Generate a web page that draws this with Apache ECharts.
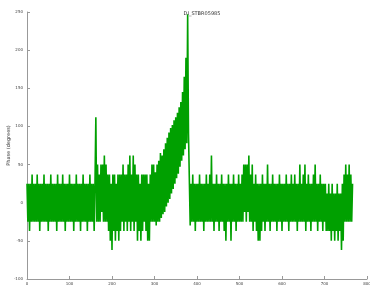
<!DOCTYPE html>
<html>
<head>
<meta charset="utf-8">
<script src="https://cdn.jsdelivr.net/npm/echarts@6/dist/echarts.min.js"></script>
<style>
  html, body { margin: 0; padding: 0; background: #fff; }
  #chart { width: 370px; height: 286px; }
</style>
</head>
<body>
<div id="chart"></div>
<script>
  var titleText = 'DI_STBR05985';
  var yName = 'Phase (degrees)';
  var step = 2; // x spacing between samples

  // flat part before the jump (x 0..160)
  var flatStart = [25,-25,25,-37,25,-25,37,-25,25,-25,25,-25,37,-25,25,-37,25,-25,25,-25,
    37,-25,25,-25,25,-37,25,-25,37,-25,25,-25,25,-25,25,-37,37,-25,25,-25,
    25,-25,37,-25,25,-37,25,-25,25,-25,37,-25,25,-25,25,-37,25,-25,37,-25,
    25,-25,25,-37,25,-25,37,-25,25,-25,25,-37,25,-25,37,-25,25,-25,25,-37,
    25];
  // noisy part after the spike (x 162..300)
  var noisy = [112,-25,50,-25,37,-25,50,-12,50,-25,62,-25,50,-25,37,
    -37,37,-50,25,-62,37,-37,37,-50,25,-37,37,-50,
    37,-37,37,-25,50,-37,37,-25,37,-37,50,-25,62,-37,37,-25,62,-37,50,-25,37,
    -50,37,-37,25,-50,37,-37,37,-25,37,-37,37,-50,25,-50,37,
    -25,50,-25,50,-25];
  // ramp up to the peak (x 302..384)
  var ramp = [40,-30,50,-25,55,-25,65,-20,62,-15,70,-12,78,-5,85,0,92,5,98,12,
    102,18,108,25,112,32,118,38,125,47,132,55,145,62,165,70,190,78,247,90,
    30,-30];
  // tail after the peak (x 386..766)
  var tail = [25,-25,37,-25,25,-37,25,-25,25,-25,37,-25,25,-25,25,-37,25,-25,37,-25,
    25,-25,37,-25,62,-25,25,-37,25,-25,37,-25,25,-37,25,-25,37,-25,25,-37,
    25,-50,25,-25,37,-25,25,-50,25,-25,37,-25,25,-37,25,-25,37,-25,25,-25,
    37,-25,50,-12,50,-25,50,-12,62,-25,37,-25,50,-37,25,-25,37,-37,25,-50,
    25,-50,25,-37,37,-25,25,-37,25,-25,50,-25,25,-37,25,-25,37,-25,25,-25,
    25,-37,25,-25,37,-25,25,-37,25,-25,25,-25,37,-25,25,-37,25,-25,37,-25,
    25,-25,37,-25,25,-37,25,-25,50,-25,25,-25,37,-25,50,-37,25,-25,37,-25,
    25,-37,25,-25,37,-25,50,-25,25,-37,25,-25,37,-25,25,-37,25,-25,25,-37,
    12,-37,25,-37,12,-50,25,-37,12,-50,12,-37,25,-50,12,-37,12,-62,25,-50,
    37,-25,50,-25,37,-25,50,-25,37,-25,25];

  var phase = flatStart.concat(noisy, ramp, tail);
  var points = [];
  for (var i = 0; i < phase.length; i++) {
    points.push([i * step, phase[i]]);
  }

  var font = 'DejaVu Sans';
  var chart = echarts.init(document.getElementById('chart'));
  chart.setOption({
    animation: false,
    title: {
      text: titleText,
      left: 197,
      textAlign: 'center',
      top: 6,
      textStyle: { fontSize: 5, fontWeight: 'normal', color: '#333', fontFamily: font }
    },
    grid: { left: 27, right: 3, top: 12, bottom: 7, containLabel: false, outerBoundsMode: 'none' },
    xAxis: {
      type: 'value',
      min: 0, max: 800, interval: 100,
      axisLine: { onZero: false, lineStyle: { color: '#999' } },
      axisTick: { inside: true, length: 3, lineStyle: { color: '#999' } },
      axisLabel: { fontSize: 4, color: '#444', margin: 3, fontFamily: font },
      splitLine: { show: false }
    },
    yAxis: {
      type: 'value',
      min: -100, max: 250, interval: 50,
      name: yName,
      nameLocation: 'middle',
      nameGap: 16,
      nameMoveOverlap: false,
      nameTextStyle: { fontSize: 5, color: '#333', fontFamily: font },
      axisLine: { show: true, lineStyle: { color: '#999' } },
      axisTick: { show: true, inside: true, length: 3, lineStyle: { color: '#999' } },
      axisLabel: { fontSize: 4, color: '#444', margin: 4, fontFamily: font },
      splitLine: { show: false }
    },
    series: [{
      type: 'line',
      data: points,
      showSymbol: false,
      lineStyle: { color: '#00a000', width: 1.6 },
      itemStyle: { color: '#00a000' }
    }]
  });
</script>
</body>
</html>
